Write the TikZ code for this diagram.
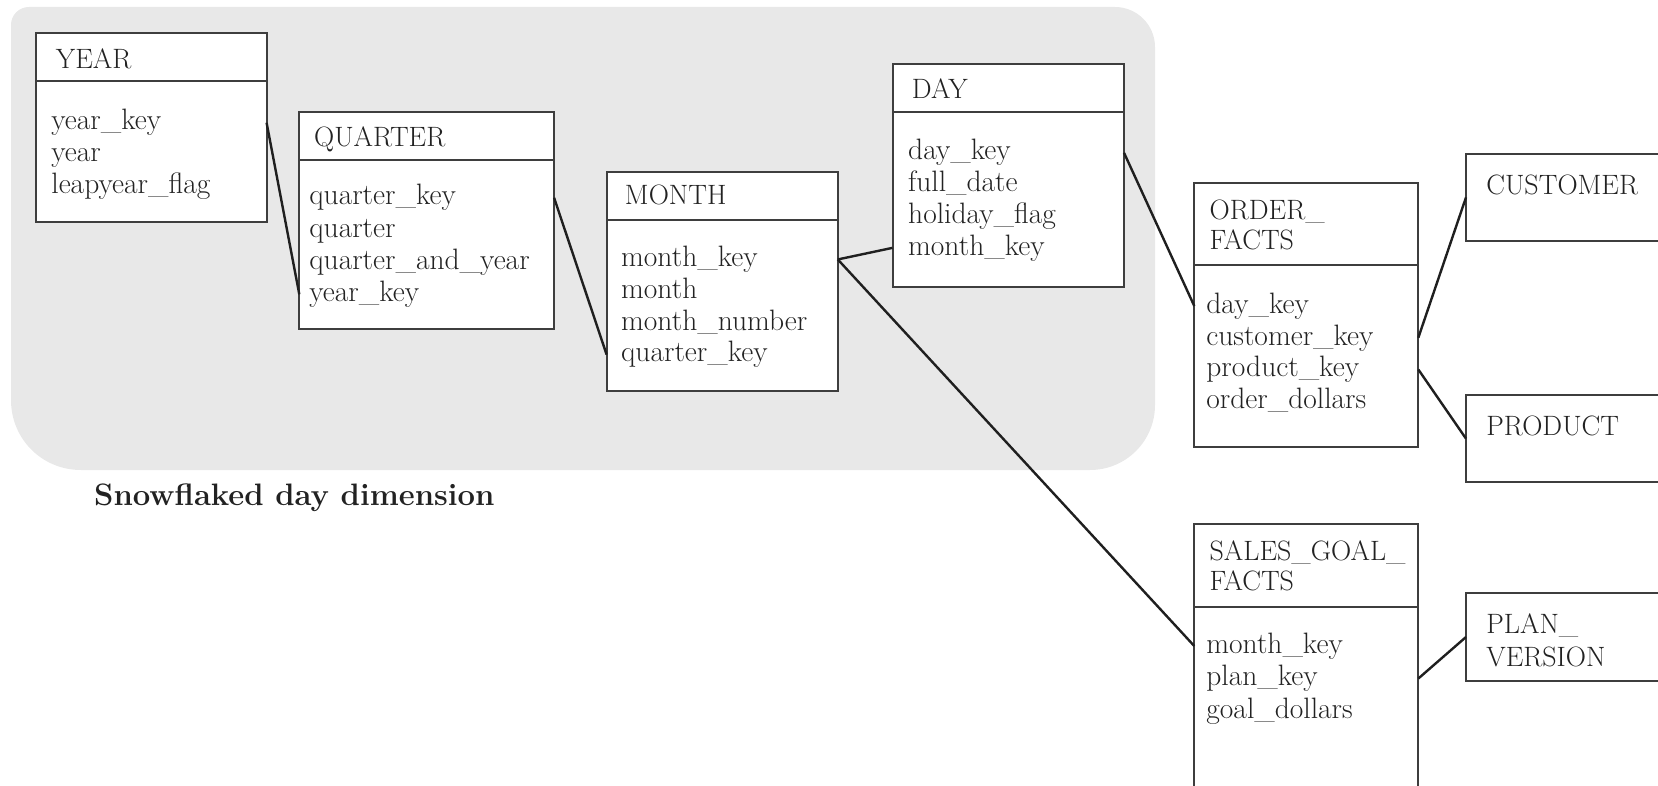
\documentclass[tikz,border=0pt]{standalone}
\definecolor{snowgray}{RGB}{232,232,232}
\definecolor{edgegray}{RGB}{62,62,62}
\definecolor{inkgray}{RGB}{34,34,34}
\newcommand{\tblfont}{\fontsize{29.5}{34}\selectfont}
\newcommand{\hdrfont}{\fontsize{28}{34}\selectfont}
\newcommand{\capfont}{\fontsize{31}{36}\selectfont\bfseries}
\tikzset{every picture/.style={line width=0.75pt}}
\tikzset{
  headbox/.style={draw=edgegray, line width=2pt, fill=white, anchor=north west, inner sep=0pt, outer sep=0pt},
  bodybox/.style={headbox},
  txt/.style={anchor=base west, inner sep=0pt, text=inkgray, font=\tblfont},
  hdrtxt/.style={txt, font=\hdrfont},
  captxt/.style={anchor=base west, inner sep=0pt, text=inkgray, font=\capfont},
  link/.style={draw=black!88, line width=2.4pt},
}
\begin{document}
\begin{tikzpicture}[x=1pt,y=1pt,yscale=-1,xscale=1]
\useasboundingbox (0,0) rectangle (1658,786);

%Shape: Snowflake region
\fill[snowgray] (11,25) .. controls (11,15) and (19,7) .. (29,7)
  -- (1115,7) .. controls (1137,7) and (1155,25) .. (1155,47)
  -- (1155,405) .. controls (1155,441) and (1126,470) .. (1090,470)
  -- (81,470) .. controls (42,470) and (11,439) .. (11,400) -- cycle;

%Shape: YEAR
\node[headbox, minimum width=231pt, minimum height=47.7pt] (yearh) at (35.6,33.3) {};
\node[bodybox, minimum width=231pt, minimum height=140.7pt] (yearb) at (yearh.south west) {};
% Text Node
\node[hdrtxt] (yeart) at (55.5,68.3) {YEAR};
\foreach \f [count=\i] in {year\_key,year,leapyear\_flag}
  \node[txt] (yr-\i) at (51,{130+31.8*(\i-1)}) {\f};

%Shape: QUARTER
\node[headbox, minimum width=254.8pt, minimum height=47.7pt] (quarterh) at (299.3,112.3) {};
\node[bodybox, minimum width=254.8pt, minimum height=169.3pt] (quarterb) at (quarterh.south west) {};
% Text Node
\node[hdrtxt] (quartert) at (313.8,146.7) {QUARTER};
\foreach \f [count=\i] in {quarter\_key,quarter,quarter\_and\_year,year\_key}
  \node[txt] (qr-\i) at (309,{205+32.2*(\i-1)}) {\f};

%Shape: MONTH
\node[headbox, minimum width=231.2pt, minimum height=48.3pt] (monthh) at (606.6,171.7) {};
\node[bodybox, minimum width=231.2pt, minimum height=170.7pt] (monthb) at (monthh.south west) {};
% Text Node
\node[hdrtxt] (montht) at (624.6,205) {MONTH};
\foreach \f [count=\i] in {month\_key,month,month\_number,quarter\_key}
  \node[txt] (mo-\i) at (620.8,{266.7+31.7*(\i-1)}) {\f};

%Shape: DAY
\node[headbox, minimum width=231.5pt, minimum height=47.4pt] (dayh) at (892.5,64.3) {};
\node[bodybox, minimum width=231.5pt, minimum height=175.6pt] (dayb) at (dayh.south west) {};
% Text Node
\node[hdrtxt] (dayt) at (911.6,98.3) {DAY};
\foreach \f [count=\i] in {day\_key,full\_date,holiday\_flag,month\_key}
  \node[txt] (dy-\i) at (907.8,{160+31.7*(\i-1)}) {\f};

%Shape: ORDER_FACTS
\node[headbox, minimum width=224pt, minimum height=81.7pt] (orderh) at (1194.3,183.3) {};
\node[bodybox, minimum width=224pt, minimum height=181.7pt] (orderb) at (orderh.south west) {};
% Text Node
\node[hdrtxt] (ordert1) at (1209.3,220) {ORDER\_};
\node[hdrtxt] (ordert2) at (1209.3,250) {FACTS};
\foreach \f [count=\i] in {day\_key,customer\_key,product\_key,order\_dollars}
  \node[txt] (of-\i) at (1206,{313.3+31.7*(\i-1)}) {\f};

%Shape: SALES_GOAL_FACTS
\node[headbox, minimum width=224pt, minimum height=82.4pt] (salesh) at (1194.3,524.3) {};
\node[bodybox, minimum width=224pt, minimum height=230pt] (salesb) at (salesh.south west) {};
% Text Node
\node[hdrtxt] (salest1) at (1209.3,560) {SALES\_GOAL\_};
\node[hdrtxt] (salest2) at (1209.3,590) {FACTS};
\foreach \f [count=\i] in {month\_key,plan\_key,goal\_dollars}
  \node[txt] (sg-\i) at (1206,{653.3+32.5*(\i-1)}) {\f};

%Shape: outer dimensions
\node[headbox, minimum width=250pt, minimum height=86.7pt] (custbox) at (1466,154) {};
\node[hdrtxt] (custt) at (1486,195) {CUSTOMER};
\node[headbox, minimum width=250pt, minimum height=87.3pt] (prodbox) at (1466,395) {};
\node[hdrtxt] (prodt) at (1486,435) {PRODUCT};
\node[headbox, minimum width=250pt, minimum height=87.4pt] (planbox) at (1466,593.3) {};
\node[hdrtxt] (plant1) at (1486,633.3) {PLAN\_};
\node[hdrtxt] (plant2) at (1486,666.7) {VERSION};

%Straight Lines
\draw[link] (yearb.east |- yr-1.west) -- (quarterb.west |- qr-4.west);
\draw[link] (quarterb.east |- qr-1.west) -- (monthb.west |- mo-4.west);
\draw[link] (monthb.east |- mo-1.west) -- (dayb.west |- dy-4.west);
\draw[link] (monthb.east |- mo-1.west) -- (salesb.west |- sg-1.west);
\draw[link] (dayb.east |- dy-1.west) -- (orderb.west |- of-1.west);
\draw[link] (orderb.east |- of-2.west) -- (custbox.west);
\draw[link] (orderb.east |- of-3.west) -- (prodbox.west);
\draw[link] (salesb.east |- sg-2.west) -- (planbox.west);

% Text Node
\node[captxt] (caption) at (93.8,505) {Snowflaked day dimension};

\end{tikzpicture}
\end{document}
